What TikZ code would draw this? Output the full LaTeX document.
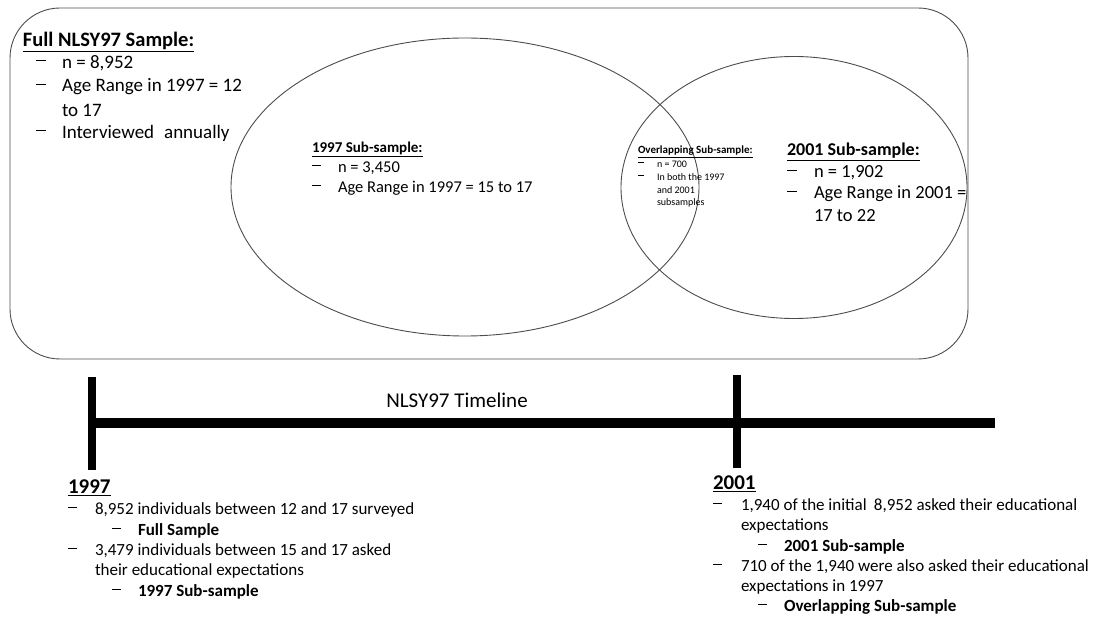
\documentclass[tikz,border=0pt]{standalone}
\usepackage{fontspec}
\setmainfont{Carlito}
\newcommand\mydash{\rule[0.26em]{0.55em}{0.06em}}
\begin{document}
\begin{tikzpicture}[x=1pt,y=-1pt,
  shape line/.style={draw=black!70, line width=0.9pt},
  tl/.style={draw=black, line width=10pt},
  tick/.style={draw=black, line width=8pt},
  txt/.style={anchor=west, inner sep=0pt, outer sep=0pt},
  fA/.style={font=\fontsize{19}{22}\selectfont},
  fAt/.style={font=\fontsize{20.5}{22}\selectfont\bfseries},
  fB/.style={font=\fontsize{16.5}{19}\selectfont},
  fBt/.style={font=\fontsize{15}{19}\selectfont\bfseries},
  fC/.style={font=\fontsize{10}{12}\selectfont},
  fCt/.style={font=\fontsize{11}{12}\selectfont\bfseries},
  fD/.style={font=\fontsize{18.5}{21}\selectfont},
  fDt/.style={font=\fontsize{18}{21}\selectfont\bfseries},
  fE/.style={font=\fontsize{17}{20}\selectfont},
  fH/.style={font=\fontsize{21}{24}\selectfont\bfseries},
]
\useasboundingbox (0,0) rectangle (1095,620);
% shapes
\draw[shape line, rounded corners=50pt] (10,8) rectangle (968,359);
\draw[shape line] (465,187) ellipse [x radius=234, y radius=149];
\draw[shape line] (794,187.5) ellipse [x radius=173, y radius=131];

% Full sample
\node[txt,fAt] (fs0) at (23,42) {\underline{Full NLSY97 Sample:}};
\node[txt,fA] (fs1d) at (36,63) {\mydash};
\node[txt,fA] (fs1) at (62,63) {n = 8,952};
\node[txt,fA] (fs2d) at (36,87) {\mydash};
\node[txt,fA] (fs2) at (62,87) {Age Range in 1997 = 12};
\node[txt,fA] (fs2b) at (62,110) {to 17};
\node[txt,fA] (fs3d) at (36,133) {\mydash};
\node[txt,fA] (fs3) at (62,133) {Interviewed\hspace{0.3em} annually};

% 1997 sub-sample
\node[txt,fBt] (s0) at (312,149) {\underline{1997 Sub-sample:}};
\node[txt,fB] (s1d) at (312,168) {\mydash};
\node[txt,fB] (s1) at (338,168) {n = 3,450};
\node[txt,fB] (s2d) at (312,188) {\mydash};
\node[txt,fB] (s2) at (338,188) {Age Range in 1997 = 15 to 17};

% overlapping
\node[txt,fCt] (o0) at (638,152) {\underline{Overlapping Sub-sample:}};
\node[txt,fC] (o1d) at (638,164) {\mydash};
\node[txt,fC] (o1) at (657,164) {n = 700};
\node[txt,fC] (o2d) at (638,177) {\mydash};
\node[txt,fC] (o2) at (657,177) {In both the 1997};
\node[txt,fC] (o3) at (657,190) {and 2001};
\node[txt,fC] (o4) at (657,203) {subsamples};

% 2001 sub-sample
\node[txt,fDt] (t0) at (787,152) {\underline{2001 Sub-sample:}};
\node[txt,fD] (t1d) at (787,173) {\mydash};
\node[txt,fD] (t1) at (814,173) {n = 1,902};
\node[txt,fD] (t2d) at (787,194) {\mydash};
\node[txt,fD] (t2) at (814,194) {Age Range in 2001 =};
\node[txt,fD] (t3) at (814,216) {17 to 22};

% timeline
\coordinate (ls) at (88,423);
\coordinate (le) at (995,423);
\coordinate (a1) at (92,377);
\coordinate (a2) at (92,470);
\coordinate (b1) at (737,375);
\coordinate (b2) at (737,468);
\draw[tl] (ls) -- (le);
\draw[tick] (a1) -- (a2);
\draw[tick] (b1) -- (b2);
\node[font=\fontsize{21}{24}\selectfont, inner sep=0pt] (tlt) at (457,400) {NLSY97 Timeline};

% 1997 block
\node[txt,fH] (y1) at (68,488) {\underline{1997}};
\node[txt,fE] (y1a) at (68,510) {\mydash};
\node[txt,fE] (y1at) at (95,510) {8,952 individuals between 12 and 17 surveyed};
\node[txt,fE] (y1b) at (112,531) {\mydash};
\node[txt,fE] (y1bt) at (138,531) {\bfseries Full Sample};
\node[txt,fE] (y1c) at (68,551) {\mydash};
\node[txt,fE] (y1ct) at (95,551) {3,479 individuals between 15 and 17 asked};
\node[txt,fE] (y1ct2) at (95,571) {their educational expectations};
\node[txt,fE] (y1d) at (112,592) {\mydash};
\node[txt,fE] (y1dt) at (138,592) {\bfseries 1997 Sub-sample};

% 2001 block
\node[txt,fH] (y2) at (713,484) {\underline{2001}};
\node[txt,fE] (y2a) at (713,506) {\mydash};
\node[txt,fE] (y2at) at (741,506) {1,940 of the initial\hspace{0.2em} 8,952 asked their educational};
\node[txt,fE] (y2at2) at (741,526) {expectations};
\node[txt,fE] (y2b) at (758,547) {\mydash};
\node[txt,fE] (y2bt) at (784,547) {\bfseries 2001 Sub-sample};
\node[txt,fE] (y2c) at (713,567) {\mydash};
\node[txt,fE] (y2ct) at (741,567) {710 of the 1,940 were also asked their educational};
\node[txt,fE] (y2ct2) at (741,587) {expectations in 1997};
\node[txt,fE] (y2d) at (758,607) {\mydash};
\node[txt,fE] (y2dt) at (784,607) {\bfseries Overlapping Sub-sample};
\end{tikzpicture}
\end{document}
